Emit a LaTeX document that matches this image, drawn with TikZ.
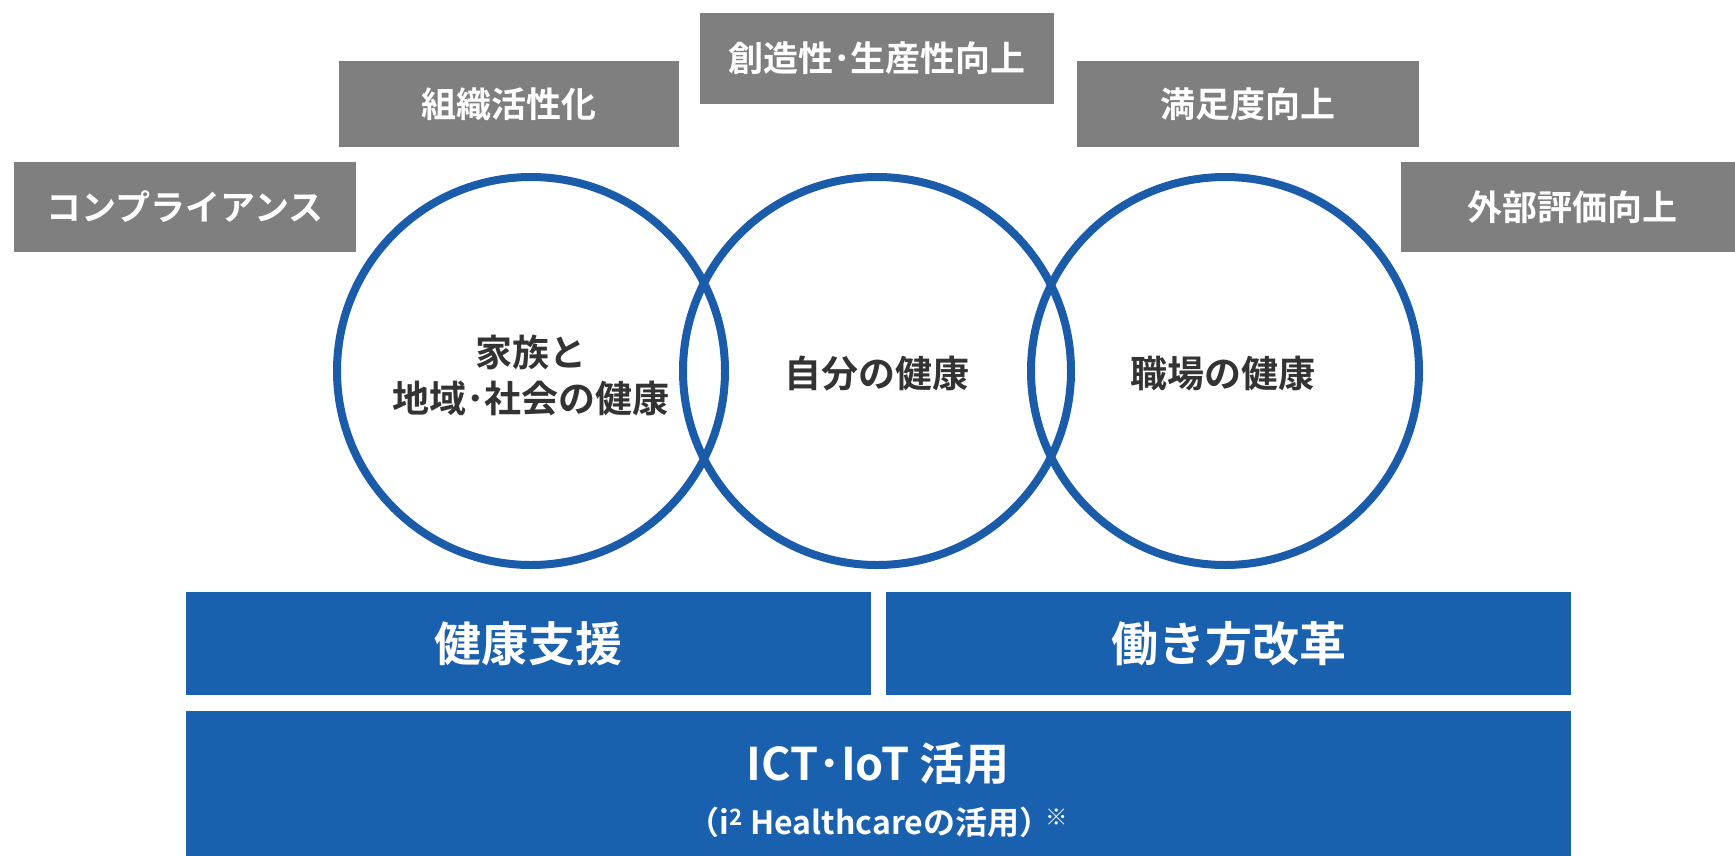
\documentclass[tikz,border=0pt]{standalone}
\usepackage{fontspec}
\newfontfamily\jp{Noto Sans CJK JP}[BoldFont={Noto Sans CJK JP Bold}]
\definecolor{boxgray}{HTML}{7F7F7F}
\definecolor{mainblue}{HTML}{1960AE}
\definecolor{ringblue}{HTML}{1A5CAA}
\definecolor{labeldark}{HTML}{333333}
\tikzset{
  graybox/.style={fill=boxgray, draw=none, text=white, font=\jp\bfseries\fontsize{35}{40}\selectfont, inner sep=0pt, anchor=center},
  bluebar/.style={fill=mainblue, draw=none, text=white, inner sep=0pt, anchor=center},
  ring/.style={circle, draw=ringblue, line width=8pt, minimum size=388pt, inner sep=0pt},
  ringlabel/.style={text=labeldark, font=\jp\bfseries\fontsize{37}{46}\selectfont, align=center}
}
\begin{document}
\begin{tikzpicture}[x=1pt,y=-1pt]
\useasboundingbox (0,0) rectangle (1735,855);
\fill[white] (0,0) rectangle (1735,855);
% top gray boxes
\node[graybox, minimum width=342pt, minimum height=90pt] (comp) at (185,207) {コンプライアンス};
\node[graybox, minimum width=340pt, minimum height=86pt] (soshiki) at (509,104) {組織活性化};
\node[graybox, minimum width=354pt, minimum height=91pt] (souzou) at (877,58.5) {創造性･生産性向上};
\node[graybox, minimum width=342pt, minimum height=86pt] (manzoku) at (1248,104) {満足度向上};
\node[graybox, minimum width=342pt, minimum height=90pt] (gaibu) at (1572,207) {外部評価向上};
% rings
\node[ring] (c1) at (531,371) {};
\node[ring] (c2) at (877,371) {};
\node[ring] (c3) at (1225,371) {};
\node[ringlabel] (l1) at (531,375) {家族と\\地域･社会の健康};
\node[ringlabel] (l2) at (877,374) {自分の健康};
\node[ringlabel] (l3) at (1223,374) {職場の健康};
% blue bars
\node[bluebar, minimum width=685pt, minimum height=103pt, font=\jp\bfseries\fontsize{47}{52}\selectfont] (kenko) at (528.5,643.5) {健康支援};
\node[bluebar, minimum width=685pt, minimum height=103pt, font=\jp\bfseries\fontsize{47}{52}\selectfont] (hataraki) at (1228.5,643.5) {働き方改革};
\node[bluebar, minimum width=1385pt, minimum height=150pt] (ict) at (878.5,786) {};
\node[text=white, font=\jp\bfseries\fontsize{45}{50}\selectfont, inner sep=0pt] (ict1) at (878,763) {ICT･IoT 活用};
\node[text=white, font=\jp\bfseries\fontsize{32}{36}\selectfont, inner sep=0pt] (ict2) at (878,822) {（i\textsuperscript{2} Healthcareの活用）\kern-6pt\textsuperscript{※}};
\end{tikzpicture}
\end{document}
